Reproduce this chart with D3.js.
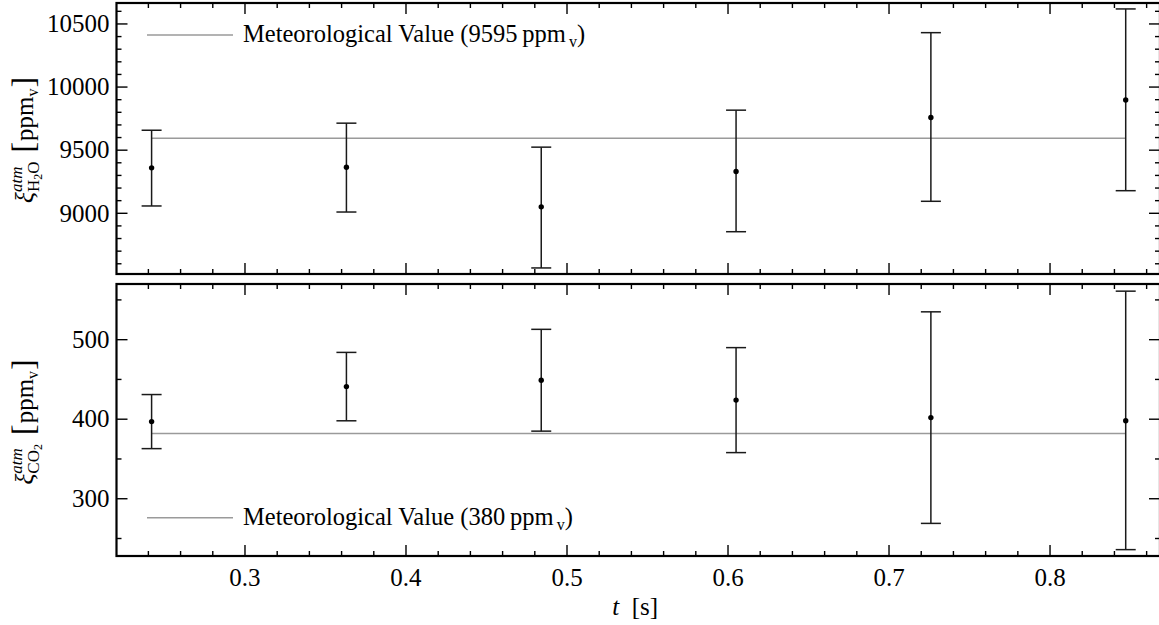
<!DOCTYPE html>
<html><head><meta charset="utf-8">
<script src="https://cdn.jsdelivr.net/npm/d3@7"></script>
<style>
body{margin:0;background:#fff;}
svg{display:block;}
</style></head>
<body>
<svg id="c" width="1159" height="625"></svg>
<script>
// ---- data ----
const times   = [0.242, 0.363, 0.484, 0.605, 0.726, 0.847];
const h2o     = [9360, 9365, 9051, 9331, 9759, 9898];
const h2oLo   = [9058, 9010, 8567, 8854, 9095, 9179];
const h2oHi   = [9658, 9714, 9524, 9817, 10431, 10619];
const co2     = [397, 441, 449, 424, 402, 398];
const co2Lo   = [363, 398, 385, 358, 269, 236];
const co2Hi   = [431, 484, 513, 490, 535, 561];
const refH2O  = 9595, refH2OLabel = "9595";
const refCO2  = 382,  refCO2Label = "380";
const xTicks  = [0.3, 0.4, 0.5, 0.6, 0.7, 0.8];
const h2oTicks = [9000, 9500, 10000, 10500];
const co2Ticks = [300, 400, 500];

const FONT = '"Liberation Serif","Times New Roman",serif';
const svg = d3.select("#c");
const L = 116.5, R = 1160;
const x = d3.scaleLinear().domain([0.2202, 0.8683]).range([L, R]);
const yTop = d3.scaleLinear().domain([8519, 10666]).range([274, 3]);
const yBot = d3.scaleLinear().domain([228, 570]).range([556, 284]);

function minorTicks(lo, hi, step){
  const out=[]; const s=Math.ceil(lo/step-1e-9);
  for(let k=s;k*step<=hi+1e-9;k++) out.push(+(k*step).toFixed(6));
  return out;
}

function panel(y, vals, lo, hi, ref, majorY, minorStep, showXLabels){
  const g = svg.append("g");
  const [y0, y1] = [y.range()[0], y.range()[1]];
  const [d0, d1] = y.domain();
  g.append("line").attr("x1", x(times[0])).attr("x2", x(times[times.length-1]))
    .attr("y1", y(ref)).attr("y2", y(ref)).attr("stroke","#9a9a9a").attr("stroke-width",1.6);
  const eb = g.selectAll(".eb").data(times.map((t,i)=>({t, v:vals[i], lo:lo[i], hi:hi[i]}))).enter().append("g");
  eb.append("line").attr("x1",d=>x(d.t)).attr("x2",d=>x(d.t)).attr("y1",d=>y(d.lo)).attr("y2",d=>y(d.hi))
    .attr("stroke","#1a1a1a").attr("stroke-width",1.5);
  eb.append("line").attr("x1",d=>x(d.t)-10).attr("x2",d=>x(d.t)+10).attr("y1",d=>y(d.hi)).attr("y2",d=>y(d.hi))
    .attr("stroke","#1a1a1a").attr("stroke-width",1.5);
  eb.append("line").attr("x1",d=>x(d.t)-10).attr("x2",d=>x(d.t)+10).attr("y1",d=>y(d.lo)).attr("y2",d=>y(d.lo))
    .attr("stroke","#1a1a1a").attr("stroke-width",1.5);
  eb.append("circle").attr("cx",d=>x(d.t)).attr("cy",d=>y(d.v)).attr("r",2.7).attr("fill","#000");

  const xd = x.domain();
  const xMin = minorTicks(xd[0], xd[1], 0.02).filter(v=>Math.abs(x(v)-L)>2 && Math.abs(x(v)-R)>2);
  xMin.forEach(v=>{
    const major = xTicks.some(m=>Math.abs(m-v)<1e-6);
    const len = major?11:5;
    g.append("line").attr("x1",x(v)).attr("x2",x(v)).attr("y1",y0).attr("y2",y0-len).attr("stroke","#000").attr("stroke-width",1.4);
    g.append("line").attr("x1",x(v)).attr("x2",x(v)).attr("y1",y1).attr("y2",y1+len).attr("stroke","#000").attr("stroke-width",1.4);
  });
  const yMin = minorTicks(d0, d1, minorStep).filter(v=>Math.abs(y(v)-y0)>2 && Math.abs(y(v)-y1)>2);
  yMin.forEach(v=>{
    const major = majorY.includes(v);
    const len = major?11:5;
    g.append("line").attr("x1",L).attr("x2",L+len).attr("y1",y(v)).attr("y2",y(v)).attr("stroke","#000").attr("stroke-width",1.4);
    g.append("line").attr("x1",R).attr("x2",R-len).attr("y1",y(v)).attr("y2",y(v)).attr("stroke","#000").attr("stroke-width",1.4);
  });
  g.append("rect").attr("x",L).attr("y",y1).attr("width",R-L).attr("height",y0-y1)
    .attr("fill","none").attr("stroke","#000").attr("stroke-width",2.2);
  g.selectAll(".yl").data(majorY).enter().append("text")
    .attr("x",L-7).attr("y",d=>y(d)).attr("dy","0.33em").attr("text-anchor","end")
    .attr("font-family",FONT).attr("font-size",25).text(d=>d);
  if(showXLabels){
    g.selectAll(".xl").data(xTicks).enter().append("text")
      .attr("x",d=>x(d)).attr("y",586).attr("text-anchor","middle").attr("font-family",FONT).attr("font-size",25)
      .text(d=>d.toFixed(1));
  }
  return g;
}

panel(yTop, h2o, h2oLo, h2oHi, refH2O, h2oTicks, 100, false);
panel(yBot, co2, co2Lo, co2Hi, refCO2, co2Ticks, 50, true);

function legend(ly, label){
  svg.append("line").attr("x1",147).attr("x2",233).attr("y1",ly).attr("y2",ly)
    .attr("stroke","#9a9a9a").attr("stroke-width",1.6);
  const t = svg.append("text").attr("x",243).attr("y",ly+7).attr("font-family",FONT).attr("font-size",24.5);
  t.append("tspan").text("Meteorological Value (" + label + "\u2009ppm");
  t.append("tspan").attr("font-size",16).attr("dx",3).attr("dy",5).text("v");
  t.append("tspan").attr("dy",-5).text(")");
}
legend(35, refH2OLabel);
legend(517.7, refCO2Label);

function ylabel(cy, subParts){
  const g = svg.append("g");
  let cx = 0;
  const piece = (txt, size, dy, italic, xx) => {
    const t = g.append("text").attr("x", xx===undefined?cx:xx).attr("y", dy).attr("font-size", size)
      .attr("font-family",FONT).attr("font-style", italic?"italic":"normal").text(txt);
    return t.node().getComputedTextLength();
  };
  cx += piece("ξ", 26, 0, true);
  const start = cx;
  const wSup = piece("atm", 17, -11, true, start);
  let sx = start;
  subParts.forEach(p=>{ sx += piece(p[0], p[1], p[2], false, sx); });
  cx = start + Math.max(wSup, sx-start) + 9;
  cx += piece("[", 32, 1, false);
  cx += 1;
  cx += piece("ppm", 25, 0, false);
  cx += piece("v", 16, 5, false) + 1;
  cx += piece("]", 32, 1, false);
  g.attr("transform", `translate(33,${cy}) rotate(-90) translate(${-cx/2},0)`);
}
ylabel(140, [["H",17,6],["2",12,9],["O",17,6]]);
ylabel(422, [["CO",17,6],["2",12,9]]);

const xl = svg.append("text").attr("x",(L+R)/2-3).attr("y",615).attr("text-anchor","middle").attr("font-family",FONT).attr("font-size",25);
xl.append("tspan").attr("font-style","italic").text("t");
xl.append("tspan").text("\u2002[s]");
</script>
</body></html>
